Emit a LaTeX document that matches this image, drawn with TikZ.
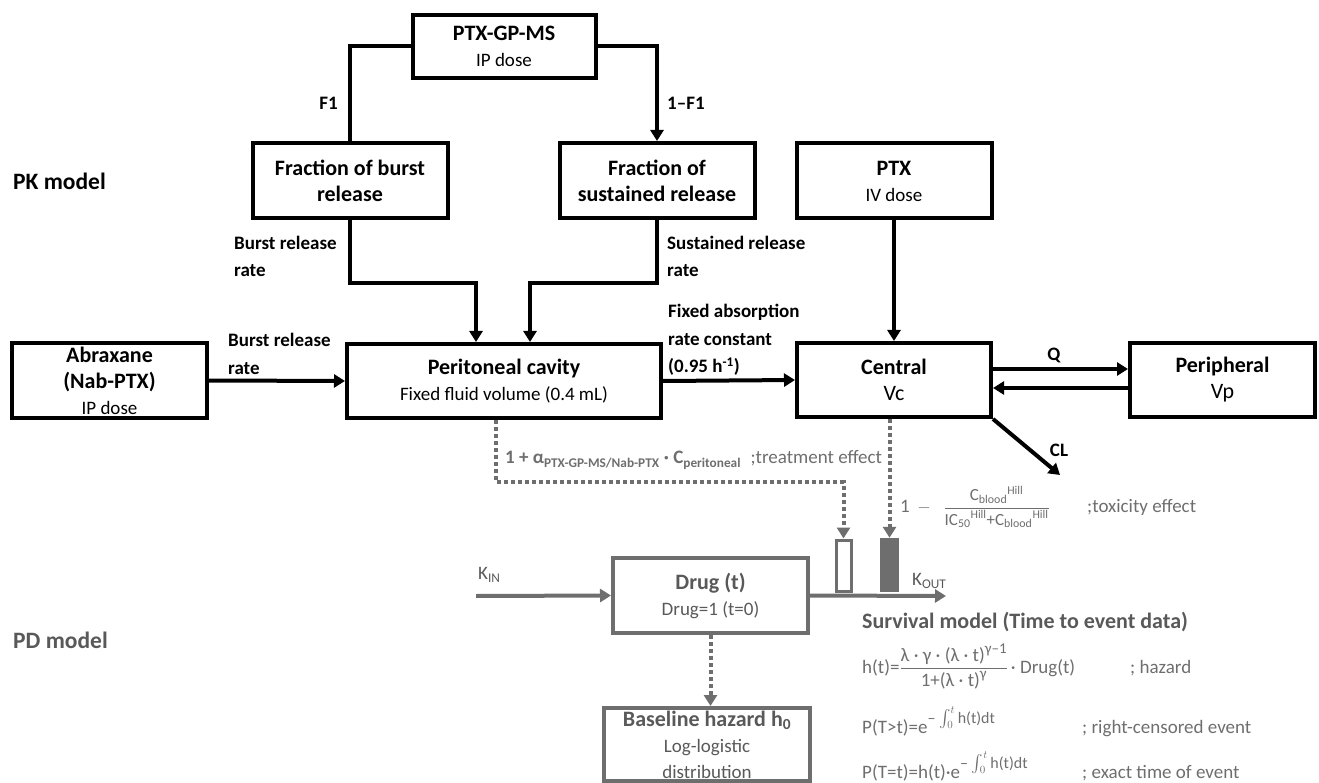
\documentclass[tikz,border=0pt]{standalone}
\usepackage{fontspec}
\usepackage{amsmath}
\setmainfont{Carlito}
\usetikzlibrary{arrows.meta}
\definecolor{pdline}{HTML}{6E6E6E}
\definecolor{pdtext}{HTML}{595959}
\definecolor{fmtext}{HTML}{6E6E6E}
\newcommand\fs[2]{\fontsize{#1}{#2}\selectfont}
\tikzset{
  pkbox/.style={draw=black, line width=4pt, align=center, inner sep=0pt, text=black, font=\fs{22}{26}\bfseries},
  pdbox/.style={draw=pdline, line width=4pt, align=center, inner sep=0pt, text=pdtext, font=\fs{22}{26}\bfseries},
  ln/.style={line width=4pt, draw=black},
  arr/.style={line width=4pt, draw=black, -{Triangle[length=11pt,width=13pt]}},
  garr/.style={line width=4pt, draw=pdline, -{Triangle[length=11pt,width=13pt]}},
  dotarr/.style={line width=4pt, draw=pdline, dash pattern=on 4pt off 3pt, -{Triangle[length=11pt,width=13pt]}},
  lbl/.style={inner sep=0pt, align=left, font=\fs{19}{27.5}\bfseries},
  fm/.style={inner sep=0pt, align=left, text=fmtext, font=\fs{19}{24}},
  ttl/.style={inner sep=0pt, font=\fs{23.5}{28}\bfseries}
}
\begin{document}
\begin{tikzpicture}[x=1pt,y=-1pt]
\useasboundingbox (0,0) rectangle (1319,783);

% section labels
\node[ttl, anchor=west] (pk) at (13,181) {PK model};
\node[ttl, anchor=west, text=pdtext] (pd) at (13,640) {PD model};

% PK boxes
\node[pkbox, minimum width=183pt, minimum height=63pt] (gpms) at (504,46.5) {PTX-GP-MS\\{\fs{19}{24}\mdseries IP dose}};
\node[pkbox, minimum width=195pt, minimum height=75pt] (burst) at (350,180.5) {Fraction of burst\\release};
\node[pkbox, minimum width=195pt, minimum height=75pt] (sust) at (657,180.5) {Fraction of\\sustained release};
\node[pkbox, minimum width=195pt, minimum height=75pt] (ptx) at (894,181) {PTX\\{\fs{19}{24}\mdseries IV dose}};
\node[pkbox, minimum width=195pt, minimum height=75pt] (abrax) at (109.5,380.5) {Abraxane\\(Nab-PTX)\\{\fs{19}{24}\mdseries IP dose}};
\node[pkbox, minimum width=314pt, minimum height=74pt] (perit) at (504,381) {Peritoneal cavity\\{\fs{19}{24}\mdseries Fixed fluid volume (0.4 mL)}};
\node[pkbox, minimum width=194pt, minimum height=74pt] (central) at (894,380) {Central\\{\mdseries Vc}};
\node[pkbox, minimum width=185pt, minimum height=74pt] (periph) at (1222.5,380) {Peripheral\\{\mdseries Vp}};

% PK connectors
\draw[ln] (gpms.west) -| (burst.north);
\draw[arr] (gpms.east) -| (sust.north);
\node[lbl, anchor=east] (f1) at (338,103) {F1};
\node[lbl, anchor=west] (f2) at (667,103) {1–F1};

\coordinate (bj) at (476,283);
\coordinate (sj) at (530,283);
\draw[arr] (burst.south) |- (bj) -- (bj |- perit.north);
\draw[arr] (sust.south) |- (sj) -- (sj |- perit.north);
\node[lbl, anchor=west] (brl) at (234,256.5) {Burst release\\rate};
\node[lbl, anchor=west] (srl) at (667,256.5) {Sustained release\\rate};

\draw[arr] (ptx.south) -- (central.north);
\draw[arr] (abrax.east) -- (perit.west);
\node[lbl, anchor=west] (abl) at (228,354) {Burst release\\rate};
\draw[arr] (perit.east) -- (central.west);
\node[lbl, anchor=west] (fal) at (668,340) {Fixed absorption\\rate constant\\(0.95 h\textsuperscript{-1})};

\draw[arr] ([yshift=11pt]central.east) -- ([yshift=11pt]periph.west);
\draw[arr] ([yshift=-8pt]periph.west) -- ([yshift=-8pt]central.east);
\node[lbl] (q) at (1054,355) {Q};
\coordinate (clend) at (1060,475);
\draw[arr] (central.south east) -- (clend);
\node[lbl] (cl) at (1059,450) {CL};

% effect markers
\node[draw=pdline, line width=3pt, fill=white, minimum width=15pt, minimum height=51pt, inner sep=0pt] (openrect) at (843.5,565.5) {};
\node[fill=pdline, minimum width=19pt, minimum height=54pt, inner sep=0pt] (fillrect) at (889.5,565) {};

\coordinate (t1) at (496,482);
\draw[dotarr] (t1 |- perit.south) -- (t1) -| (openrect.north);
\draw[dotarr] (central.south -| fillrect.north) -- (fillrect.north);

\node[fm, anchor=west] (treat) at (505,460) {{\bfseries 1 + α\textsubscript{PTX-GP-MS/Nab-PTX} · C\textsubscript{peritoneal}} \;;treatment effect};
\node[fm, anchor=west] (tox) at (900,507) {1 \,$-$\;\, $\dfrac{\text{\fs{17}{18}C\textsubscript{blood}\textsuperscript{Hill}}}{\text{\fs{17}{18}IC\textsubscript{50}\textsuperscript{Hill}+C\textsubscript{blood}\textsuperscript{Hill}}}$};
\node[fm, anchor=west] (toxl) at (1087,507) {;toxicity effect};

% PD boxes
\node[pdbox, minimum width=195pt, minimum height=75pt] (drug) at (710.5,595.5) {Drug (t)\\{\fs{19}{24}\mdseries Drug=1 (t=0)}};
\node[pdbox, minimum width=206pt, minimum height=73pt] (baseline) at (707,744.5) {Baseline hazard h\textsubscript{0}\\{\fs{19}{22}\mdseries Log-logistic}\\{\fs{19}{22}\mdseries distribution}};

\coordinate (kin) at (476,596);
\draw[garr] (kin) -- (drug.west);
\node[fm, anchor=west, text=pdtext] (kinl) at (478,575) {K\textsubscript{IN}};
\coordinate (kout) at (946,596);
\draw[garr] (drug.east) -- (kout);
\node[fm, anchor=west, text=pdtext] (koutl) at (912,581) {K\textsubscript{OUT}};
\draw[dotarr] (drug.south) -- (drug.south |- baseline.north);

% survival model
\node[anchor=west, inner sep=0pt, text=pdtext, font=\fs{22}{26}\bfseries] (surv) at (862,622) {Survival model (Time to event data)};
\node[fm, anchor=base west] (haz) at (862,673) {h(t)=$\dfrac{\text{λ · γ · (λ · t)\raisebox{8pt}{\fs{15}{16}γ–1}}}{\text{1+(λ · t)\raisebox{8pt}{\fs{15}{16}γ}}}$\,· Drug(t)};
\node[fm, anchor=base west] (hazl) at (1130,673) {; hazard};
\node[fm, anchor=base west] (p1) at (862,733) {P(T>t)=e\raisebox{10pt}{\fs{16}{17}– $\int_{0}^{t}$\,h(t)dt}};
\node[fm, anchor=base west] (p1l) at (1082,733) {; right-censored event};
\node[fm, anchor=base west] (p2) at (862,778) {P(T=t)=h(t)·e\raisebox{10pt}{\fs{16}{17}– $\int_{0}^{t}$\,h(t)dt}};
\node[fm, anchor=base west] (p2l) at (1082,778) {; exact time of event};
\end{tikzpicture}
\end{document}
